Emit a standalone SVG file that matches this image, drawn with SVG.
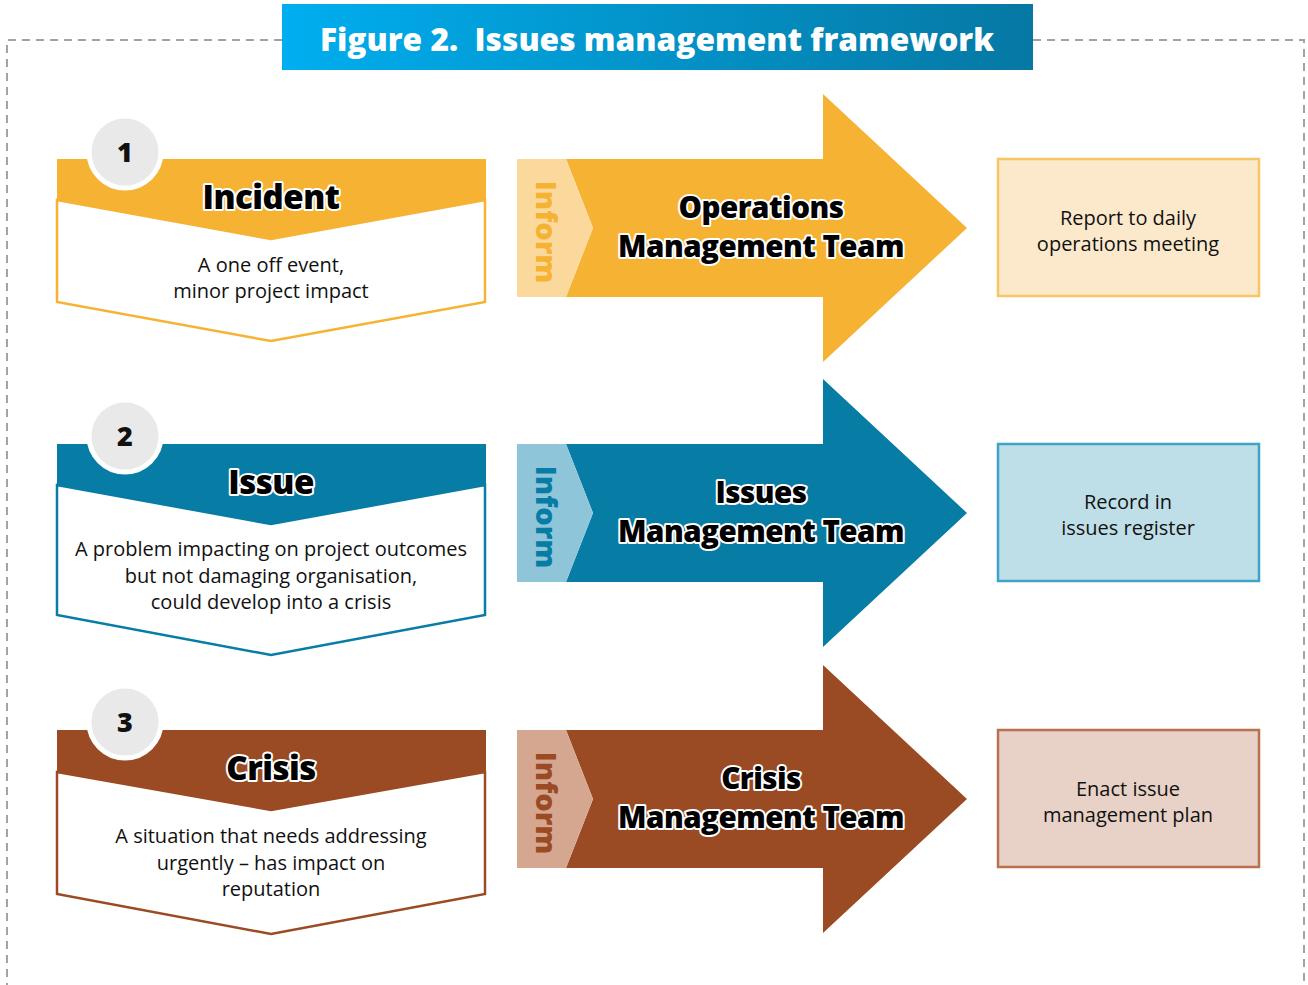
<svg xmlns="http://www.w3.org/2000/svg" width="1308" height="985" viewBox="0 0 1308 985">
<style>
.frame{fill:none;stroke:#a3a3a3;stroke-width:2;stroke-dasharray:8 6}
.title{font-family:"Open Sans","Liberation Sans",sans-serif;font-weight:800;font-size:31.7px;fill:#fff}
.head{font-family:"Open Sans","Liberation Sans",sans-serif;font-weight:800;fill:#000;stroke:#fff;stroke-width:4;stroke-linejoin:round;paint-order:stroke;text-anchor:middle;letter-spacing:-0.5px}
.body{font-family:"Open Sans","Liberation Sans",sans-serif;font-size:20px;fill:#111;text-anchor:middle}
.num{font-family:"Open Sans","Liberation Sans",sans-serif;font-weight:800;font-size:27px;fill:#111;text-anchor:middle}
.circle{fill:#e9e9e9;stroke:#fff;stroke-width:5}
.inform{font-family:"Open Sans","Liberation Sans",sans-serif;font-weight:800;font-size:29px;text-anchor:middle}
.box{stroke-width:2.5}
</style>
<defs>
<linearGradient id="tg" x1="0" y1="0" x2="1" y2="0">
<stop offset="0" stop-color="#00aeef"/>
<stop offset="1" stop-color="#0678a3"/>
</linearGradient>
</defs>
<g id="frame">
<path class="frame" d="M282,40 H7 V985"/>
<path class="frame" d="M1033,40 H1304 V985"/>
</g>
<g id="title">
<rect x="282" y="4" width="751" height="66" fill="url(#tg)"/>
<text class="title" x="657" y="51" text-anchor="middle">Figure 2.&#160; Issues management framework</text>
</g>

<!-- Row 1 -->
<g id="incident">
<polygon points="57,200 271,239 485,200 485,302 271,341 57,302" fill="#fff" stroke="#f6b233" stroke-width="2.5"/>
<polygon points="57,159 486,159 486,200 271,239 57,200" fill="#f6b233"/>
<circle class="circle" cx="125" cy="152" r="36"/>
<text class="num" x="125" y="162">1</text>
<text class="head" x="271" y="209" font-size="33">Incident</text>
<text class="body" x="271" y="272">A one off event,</text>
<text class="body" x="271" y="298">minor project impact</text>
</g>
<g id="ops-team">
<polygon points="566,159 823,159 823,94 967,228 823,362 823,297 566,297 593,228" fill="#f6b233"/>
<polygon points="517,159 566,159 593,228 566,297 517,297" fill="#fbd99d"/>
<text class="inform" transform="translate(536,232) rotate(90)" fill="#f6b233">Inform</text>
<text class="head" x="761" y="218" font-size="29.5">Operations</text>
<text class="head" x="761" y="257" font-size="29.5">Management Team</text>
</g>
<g id="ops-action">
<rect class="box" x="998" y="159" width="261" height="137" fill="#fce9cc" stroke="#f8c566"/>
<text class="body" x="1128" y="225">Report to daily</text>
<text class="body" x="1128" y="251">operations meeting</text>
</g>

<!-- Row 2 -->
<g id="issue">
<polygon points="57,485 271,524 485,485 485,615 271,655 57,615" fill="#fff" stroke="#077ca5" stroke-width="2.5"/>
<polygon points="57,444 486,444 486,485 271,524 57,485" fill="#077ca5"/>
<circle class="circle" cx="125" cy="436" r="36"/>
<text class="num" x="125" y="446">2</text>
<text class="head" x="271" y="494" font-size="33">Issue</text>
<text class="body" x="271" y="556">A problem impacting on project outcomes</text>
<text class="body" x="271" y="583">but not damaging organisation,</text>
<text class="body" x="271" y="609">could develop into a crisis</text>
</g>
<g id="issues-team">
<polygon points="566,444 823,444 823,379 967,513 823,647 823,582 566,582 593,513" fill="#077ca5"/>
<polygon points="517,444 566,444 593,513 566,582 517,582" fill="#8ec5d9"/>
<text class="inform" transform="translate(536,517) rotate(90)" fill="#077ca5">Inform</text>
<text class="head" x="761" y="503" font-size="29.5">Issues</text>
<text class="head" x="761" y="542" font-size="29.5">Management Team</text>
</g>
<g id="issues-action">
<rect class="box" x="998" y="444" width="261" height="137" fill="#bfdfe8" stroke="#3ea3c6"/>
<text class="body" x="1128" y="509">Record in</text>
<text class="body" x="1128" y="535">issues register</text>
</g>

<!-- Row 3 -->
<g id="crisis">
<polygon points="57,772 271,810 485,772 485,894 271,934 57,894" fill="#fff" stroke="#9b4b24" stroke-width="2.5"/>
<polygon points="57,730 486,730 486,772 271,810 57,772" fill="#9b4b24"/>
<circle class="circle" cx="125" cy="722" r="36"/>
<text class="num" x="125" y="732">3</text>
<text class="head" x="271" y="780" font-size="33">Crisis</text>
<text class="body" x="271" y="843">A situation that needs addressing</text>
<text class="body" x="271" y="870">urgently – has impact on</text>
<text class="body" x="271" y="896">reputation</text>
</g>
<g id="crisis-team">
<polygon points="566,730 823,730 823,665 967,799 823,933 823,868 566,868 593,799" fill="#9b4b24"/>
<polygon points="517,730 566,730 593,799 566,868 517,868" fill="#d5a791"/>
<text class="inform" transform="translate(536,803) rotate(90)" fill="#9b4b24">Inform</text>
<text class="head" x="761" y="789" font-size="29.5">Crisis</text>
<text class="head" x="761" y="828" font-size="29.5">Management Team</text>
</g>
<g id="crisis-action">
<rect class="box" x="998" y="730" width="261" height="137" fill="#e8d1c6" stroke="#b9714f"/>
<text class="body" x="1128" y="796">Enact issue</text>
<text class="body" x="1128" y="822">management plan</text>
</g>
<g id="connectors"/>
</svg>
